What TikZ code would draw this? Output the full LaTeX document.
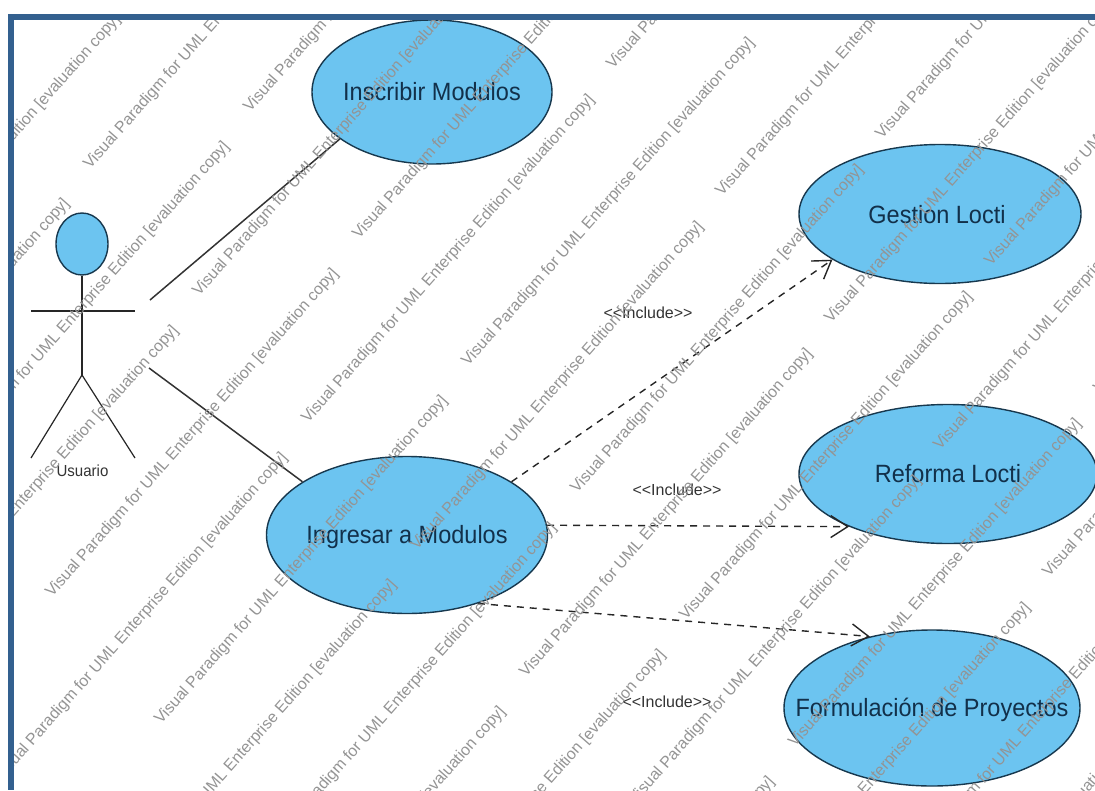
\documentclass[tikz,border=0pt]{standalone}
\usepackage{fontspec}
\usepackage{graphicx}
\setmainfont{Liberation Sans}
\usetikzlibrary{arrows.meta,shapes.geometric}
\definecolor{ucfill}{HTML}{6CC4F0}
\definecolor{ucline}{HTML}{17384E}
\definecolor{uctext}{HTML}{12304A}
\definecolor{framec}{HTML}{33608F}
\definecolor{wmark}{HTML}{949494}
\newcommand{\uctxt}[1]{\makebox[0pt]{\scalebox{.94}[1]{#1}}}
\newcommand{\smtxt}[1]{\scalebox{.94}[1]{#1}}
\tikzset{
 usecase/.style={ellipse,draw=ucline,fill=ucfill,line width=1.4pt,inner sep=0pt},
 uclabel/.style={text=uctext,inner sep=0pt,font=\fontsize{25}{28}\selectfont},
 assoc/.style={draw=black!80,line width=1.5pt},
 incl/.style={draw=black!85,line width=1.4pt,dash pattern=on 7pt off 6pt,-{Straight Barb[length=17pt,width=22pt,line width=1.4pt]}},
 small/.style={font=\fontsize{16}{18}\selectfont,text=black!80,inner sep=0pt},
 stick/.style={draw=black!85,line width=1.2pt},
 wm/.style={font=\fontsize{16}{18}\selectfont,text=wmark,rotate=48.5,anchor=base west,inner sep=0pt}
}
\begin{document}
\begin{tikzpicture}[x=1pt,y=-1pt]
\useasboundingbox (0,0) rectangle (1095,790);
\fill[white] (0,0) rectangle (1095,790);
% use cases
\node[usecase,minimum width=240pt,minimum height=144pt] (ins) at (432,92) {};
\node[usecase,minimum width=282pt,minimum height=139pt] (ges) at (940,214) {};
\node[usecase,minimum width=298pt,minimum height=139pt] (ref) at (948,474) {};
\node[usecase,minimum width=281pt,minimum height=157pt] (ing) at (407,535) {};
\node[usecase,minimum width=296pt,minimum height=156pt] (for) at (932,708) {};
\node[uclabel] (tins) at (432,92) {\uctxt{Inscribir Modulos}};
\node[uclabel] (tges) at (937,215) {\uctxt{Gestion Locti}};
\node[uclabel] (tref) at (948,474) {\uctxt{Reforma Locti}};
\node[uclabel] (ting) at (407,537) {\uctxt{Ingresar a Modulos}};
\node[uclabel] (tfor) at (932,710) {\uctxt{Formulación de Proyectos}};
% actor
\node[ellipse,draw=ucline,fill=ucfill,line width=1.4pt,minimum width=52pt,minimum height=62pt,inner sep=0pt] (head) at (82,244) {};
\coordinate (hip) at (82,375);
\coordinate (armL) at (31,311);
\coordinate (armR) at (135,311);
\coordinate (footL) at (31,458);
\coordinate (footR) at (135,458);
\draw[stick] (head.south) -- (hip);
\draw[stick] (armL) -- (armR);
\draw[stick] (footL) -- (hip) -- (footR);
\node[small] (usr) at (82.5,471) {\smtxt{Usuario}};
% connectors
\coordinate (a1) at (150,300);
\coordinate (a2) at (149,368);
\draw[assoc] (a1) -- (ins.207);
\draw[assoc] (a2) -- (ing.153);
\draw[incl] (ing.27) -- (ges.203);
\draw[incl] (ing.4) -- (ref.208);
\draw[incl] (ing.-44) -- (for.131);
\node[small] (l1) at (648,313) {<{}<Include>{}>};
\node[small] (l2) at (677,490) {<{}<Include>{}>};
\node[small] (l3) at (667,702) {<{}<Include>{}>};
% watermark: six diagonal rows of repeated text
\begin{scope}
\clip (13,19) rectangle (1095,790);
\foreach \n/\bx/\by in {0/-108/655,1/52/598,2/90/170,3/250/113,4/613/70,5/773/13}{
 \foreach \k in {-8,...,8}{
  \pgfmathsetmacro{\px}{\bx+109*\k}
  \pgfmathsetmacro{\py}{\by+127*\k}
  \node[wm,name=w\n k\k] at (\px,\py) {Visual Paradigm for UML Enterprise Edition [evaluation copy]};
 }
}
\end{scope}
% frame
\fill[framec] (7.5,13.5) rectangle (1095,19.5);
\fill[framec] (7.5,13.5) rectangle (13.5,790);
\end{tikzpicture}
\end{document}
